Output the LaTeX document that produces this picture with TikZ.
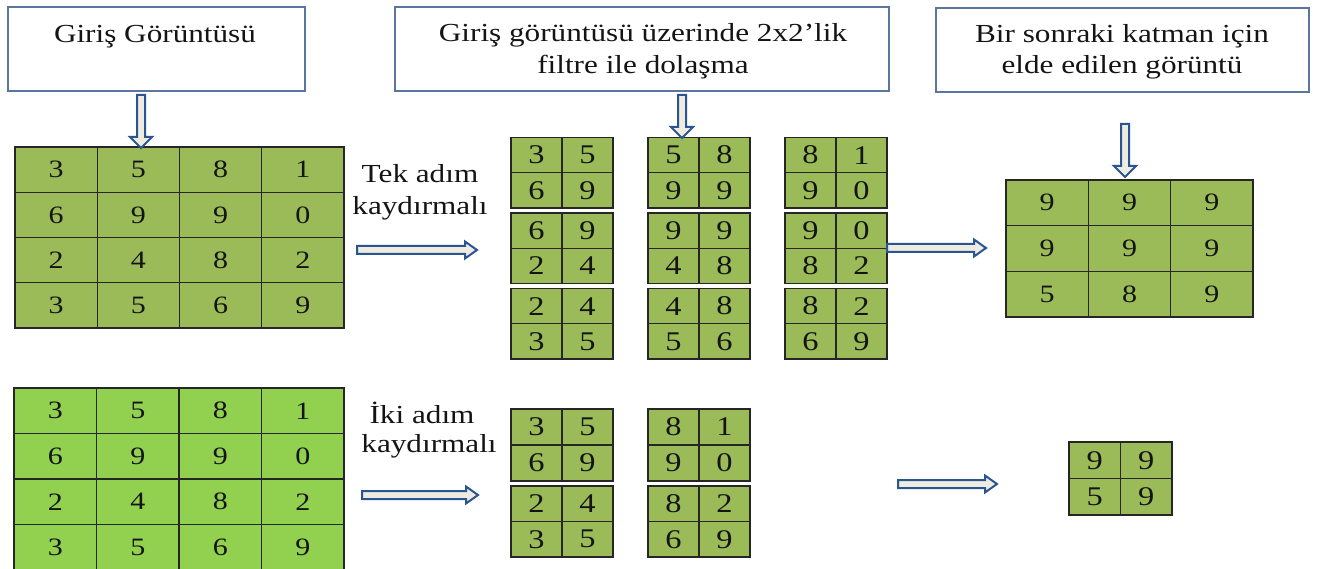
\documentclass[tikz,border=0pt]{standalone}
\usepackage{fontspec}
\setmainfont{Liberation Serif}[FakeStretch=1.2]
\usetikzlibrary{calc}

\definecolor{olive}{HTML}{9BBB59}
\definecolor{lime}{HTML}{92D050}
\definecolor{boxline}{HTML}{5A76A0}
\definecolor{arrowline}{HTML}{2A5590}
\definecolor{arrowfill}{HTML}{EEECE1}
\definecolor{ink}{HTML}{141414}

\tikzset{
  titlebox/.style={draw=boxline, line width=1.1pt, fill=white, inner sep=0pt},
  caption/.style={text=ink, font=\fontsize{26}{32}\selectfont, inner sep=0pt, anchor=base},
  cell/.style={draw=black!85, line width=1.3pt, inner sep=0pt, text=ink,
               font=\fontsize{25}{25}\selectfont},
  smallcell/.style={cell, font=\fontsize{27}{27}\selectfont},
  blockarrow/.style={draw=arrowline, fill=arrowfill, line width=2pt, line join=miter},
}

% grid of numbered cells: name, left x, top y, cell width, cell height, cell style, rows
\newcommand\numgrid[7]{%
  \foreach \rowvals [count=\gr] in {#7} {
    \foreach \val [count=\gc] in \rowvals {
      \node[#6, minimum width=#4pt, minimum height=#5pt]
        (#1-\gr-\gc) at ({#2+(\gc-0.5)*#4}, {#3+(\gr-0.5)*#5}) {\val};
    }
  }
}

% hollow block arrow pointing right, from tail coordinate to tip coordinate
\newcommand\rightblock[2]{%
  \draw[blockarrow] let \p1=(#1), \p2=(#2) in
    (\x1,\y1+4pt) -- (\x2-12pt,\y1+4pt) -- (\x2-12pt,\y1+8.5pt) -- (\x2,\y1)
    -- (\x2-12pt,\y1-8.5pt) -- (\x2-12pt,\y1-4pt) -- (\x1,\y1-4pt) -- cycle;}

% hollow block arrow pointing down, from tail coordinate to tip coordinate
\newcommand\downblock[2]{%
  \draw[blockarrow] let \p1=(#1), \p2=(#2) in
    (\x1-4pt,\y1) -- (\x1-4pt,\y2+11pt) -- (\x1-11pt,\y2+11pt) -- (\x1,\y2)
    -- (\x1+11pt,\y2+11pt) -- (\x1+4pt,\y2+11pt) -- (\x1+4pt,\y1) -- cycle;}

\begin{document}
\begin{tikzpicture}[x=1pt, y=-1pt]
\useasboundingbox[fill=white] (0,0) rectangle (1319,569);

% ---- title boxes ----
\node[titlebox, minimum width=297pt, minimum height=84pt] (boxA) at (156.5,49) {};
\node[titlebox, minimum width=494pt, minimum height=84pt] (boxB) at (642,49) {};
\node[titlebox, minimum width=373pt, minimum height=84pt] (boxC) at (1122.5,50) {};

\node[caption] (tA)  at (155,43)  {Giriş Görüntüsü};
\node[caption] (tB1) at (643,42)  {Giriş görüntüsü üzerinde 2x2’lik};
\node[caption] (tB2) at (643,74)  {filtre ile dolaşma};
\node[caption] (tC1) at (1122,43) {Bir sonraki katman için};
\node[caption] (tC2) at (1122,74) {elde edilen görüntü};

% ---- stride 1 ----
\numgrid{inA}{15}{147}{82.25}{45.25}{cell, fill=olive}{{3,5,8,1},{6,9,9,0},{2,4,8,2},{3,5,6,9}}

\node[caption] (s1a) at (420,183) {Tek adım};
\node[caption] (s1b) at (420,215) {kaydırmalı};

\numgrid{pA1}{511}{137.5}{51}{35.3}{smallcell, fill=olive}{{3,5},{6,9}}
\numgrid{pA2}{511}{213}{51}{35.3}{smallcell, fill=olive}{{6,9},{2,4}}
\numgrid{pA3}{511}{288.5}{51}{35.3}{smallcell, fill=olive}{{2,4},{3,5}}
\numgrid{pB1}{648}{137.5}{51}{35.3}{smallcell, fill=olive}{{5,8},{9,9}}
\numgrid{pB2}{648}{213}{51}{35.3}{smallcell, fill=olive}{{9,9},{4,8}}
\numgrid{pB3}{648}{288.5}{51}{35.3}{smallcell, fill=olive}{{4,8},{5,6}}
\numgrid{pC1}{785}{137.5}{51}{35.3}{smallcell, fill=olive}{{8,1},{9,0}}
\numgrid{pC2}{785}{213}{51}{35.3}{smallcell, fill=olive}{{9,0},{8,2}}
\numgrid{pC3}{785}{288.5}{51}{35.3}{smallcell, fill=olive}{{8,2},{6,9}}

\numgrid{outA}{1006}{180}{82.33}{45.67}{cell, fill=olive}{{9,9,9},{9,9,9},{5,8,9}}

% ---- stride 2 ----
\numgrid{inB}{14}{388}{82.5}{45.5}{cell, fill=lime}{{3,5,8,1},{6,9,9,0},{2,4,8,2},{3,5,6,9}}

\node[caption] (s2a) at (422,423) {İki adım};
\node[caption] (s2b) at (429,452) {kaydırmalı};

\numgrid{qA1}{511}{409}{51}{36}{smallcell, fill=olive}{{3,5},{6,9}}
\numgrid{qA2}{511}{486}{51}{35.5}{smallcell, fill=olive}{{2,4},{3,5}}
\numgrid{qB1}{648}{409}{51}{36}{smallcell, fill=olive}{{8,1},{9,0}}
\numgrid{qB2}{648}{486}{51}{35.5}{smallcell, fill=olive}{{8,2},{6,9}}

\numgrid{outB}{1069}{442}{51.5}{36.5}{smallcell, fill=olive}{{9,9},{5,9}}

% ---- arrow end points ----
\coordinate (aA0) at (141,95);   \coordinate (aA1) at (141,148);
\coordinate (aB0) at (682,95);   \coordinate (aB1) at (682,138);
\coordinate (aC0) at (1125,124); \coordinate (aC1) at (1125,177);
\coordinate (r10) at (357,250);  \coordinate (r11) at (477,250);
\coordinate (r20) at (887,248);  \coordinate (r21) at (986,248);
\coordinate (r30) at (362,495);  \coordinate (r31) at (478,495);
\coordinate (r40) at (898,484);  \coordinate (r41) at (997,484);

\downblock{aA0}{aA1}
\downblock{aB0}{aB1}
\downblock{aC0}{aC1}
\rightblock{r10}{r11}
\rightblock{r20}{r21}
\rightblock{r30}{r31}
\rightblock{r40}{r41}
\end{tikzpicture}
\end{document}
